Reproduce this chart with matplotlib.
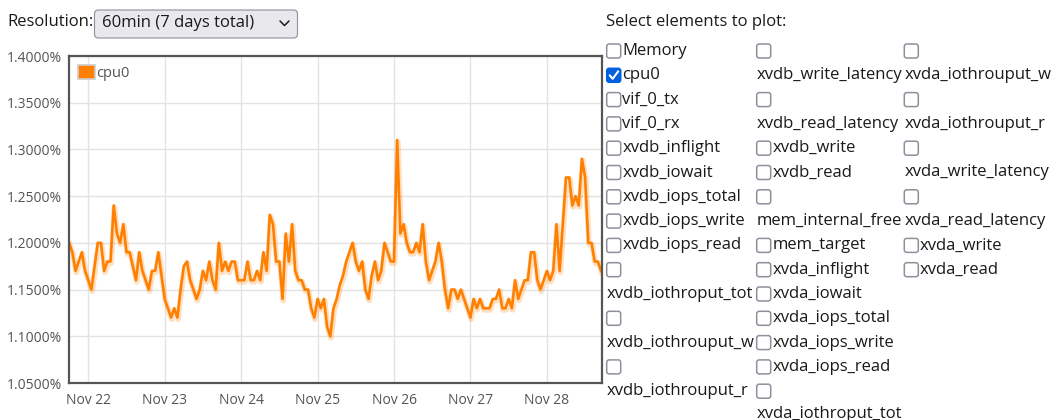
import matplotlib
matplotlib.use("Agg")
import matplotlib.pyplot as plt
import matplotlib.dates as mdates
import matplotlib.patheffects as pe
from matplotlib.patches import FancyBboxPatch, Patch
from matplotlib.lines import Line2D
from matplotlib.transforms import IdentityTransform
import pandas as pd

plt.rcParams["font.family"] = ["Open Sans", "DejaVu Sans"]

W, H = 1056, 420
ORANGE = "#ff8000"
TXT = "#1a1a1a"
TICK = "#545454"

# hourly cpu0 samples (percent), starting Nov 21 18:00
start = "2020-11-21 18:00"
cpu0 = [
    1.20, 1.19, 1.17, 1.18, 1.19, 1.17, 1.16, 1.15, 1.175, 1.20,
    1.20, 1.17, 1.18, 1.18, 1.24, 1.21, 1.20, 1.22, 1.19, 1.19,
    1.175, 1.16, 1.19, 1.17, 1.16, 1.15, 1.17, 1.17, 1.19, 1.165,
    1.14, 1.13, 1.12, 1.13, 1.12, 1.15, 1.175, 1.18, 1.16, 1.15,
    1.14, 1.15, 1.17, 1.16, 1.18, 1.16, 1.15, 1.20, 1.17, 1.18,
    1.17, 1.18, 1.18, 1.16, 1.16, 1.16, 1.18, 1.16, 1.16, 1.17,
    1.16, 1.19, 1.17, 1.23, 1.22, 1.18, 1.18, 1.14, 1.21, 1.18,
    1.22, 1.17, 1.16, 1.16, 1.15, 1.15, 1.13, 1.12, 1.14, 1.13,
    1.14, 1.11, 1.10, 1.13, 1.14, 1.155, 1.165, 1.18, 1.19, 1.20,
    1.18, 1.17, 1.18, 1.15, 1.14, 1.165, 1.18, 1.16, 1.17, 1.20,
    1.19, 1.18, 1.18, 1.31, 1.21, 1.22, 1.20, 1.19, 1.19, 1.20,
    1.19, 1.22, 1.18, 1.16, 1.17, 1.18, 1.20, 1.18, 1.15, 1.13,
    1.15, 1.15, 1.14, 1.15, 1.14, 1.13, 1.12, 1.14, 1.13, 1.14,
    1.13, 1.13, 1.13, 1.14, 1.14, 1.15, 1.13, 1.13, 1.14, 1.13,
    1.16, 1.14, 1.15, 1.16, 1.16, 1.19, 1.19, 1.16, 1.15, 1.16,
    1.17, 1.16, 1.17, 1.22, 1.17, 1.22, 1.27, 1.27, 1.24, 1.25,
    1.24, 1.29, 1.27, 1.20, 1.20, 1.18, 1.18, 1.17,
]
y_ticks = [1.05, 1.10, 1.15, 1.20, 1.25, 1.30, 1.35, 1.40]

resolution = "60min (7 days total)"
col1 = ["Memory", "cpu0", "vif_0_tx", "vif_0_rx", "xvdb_inflight", "xvdb_iowait",
        "xvdb_iops_total", "xvdb_iops_write", "xvdb_iops_read",
        "xvdb_iothroput_tot", "xvdb_iothrouput_w", "xvdb_iothrouput_r"]
col2 = ["xvdb_write_latency", "xvdb_read_latency", "xvdb_write", "xvdb_read",
        "mem_internal_free", "mem_target", "xvda_inflight", "xvda_iowait",
        "xvda_iops_total", "xvda_iops_write", "xvda_iops_read", "xvda_iothroput_tot"]
col3 = ["xvda_iothrouput_w", "xvda_iothrouput_r", "xvda_write_latency",
        "xvda_read_latency", "xvda_write", "xvda_read"]
checked = ["cpu0"]

times = pd.date_range(start, periods=len(cpu0), freq="h")

fig = plt.figure(figsize=(W / 100, H / 100), dpi=100)
px = IdentityTransform()


def text(x, y, s, **kw):
    # x, y in screen pixels from top-left
    fig.text(x, H - y, s, transform=px, va="center", fontsize=12, color=TXT, **kw)


def checkbox(x, y, on):
    box = FancyBboxPatch((x, H - y - 7), 14, 14,
                         boxstyle="round,pad=0,rounding_size=2.5", transform=px,
                         facecolor="#0060df" if on else "white",
                         edgecolor="#0060df" if on else "#8f8f9d", lw=1.1)
    fig.add_artist(box)
    if on:
        fig.add_artist(Line2D([x + 3, x + 6, x + 11.5], [H - y, H - y - 3.5, H - y + 4],
                              transform=px, color="white", lw=1.5,
                              solid_capstyle="round", solid_joinstyle="round"))


# top bar
text(7, 22, "Resolution:")
fig.add_artist(FancyBboxPatch((94.5, H - 38), 203, 28, boxstyle="round,pad=0,rounding_size=4",
                              transform=px, facecolor="#e9e9ed", edgecolor="#8f8f9d", lw=0.8))
text(102, 23, resolution)
fig.add_artist(Line2D([280, 284.5, 289], [H - 21, H - 25.5, H - 21], transform=px,
                      color=TXT, lw=1.1, solid_capstyle="round"))
text(606, 22, "Select elements to plot:")

# element selector columns
row_h = 24.3
for cx, names in [(606.7, col1), (756.7, col2), (904.3, col3)]:
    row = 0
    for name in names:
        y = 51 + row * row_h
        checkbox(cx, y, name in checked)
        if len(name) > 15:
            row += 1
            text(cx, 51 + row * row_h - (1.5 if row == 15 else 0), name)
        else:
            text(cx + 15.5, y, name)
        row += 1

# chart
ax = fig.add_axes([68.5 / W, 37 / H, 533.5 / W, 327 / H])
ax.plot(times, cpu0, color=ORANGE, lw=1.9, solid_joinstyle="round",
        path_effects=[pe.SimpleLineShadow(offset=(0.5, -1.2), shadow_color=ORANGE,
                                          alpha=0.25, linewidth=4), pe.Normal()])
ax.set_ylim(y_ticks[0], y_ticks[-1])
ax.set_yticks(y_ticks)
ax.yaxis.set_major_formatter(lambda v, _: f"{v:.4f}%")
ax.set_xlim(times[0] - pd.Timedelta(minutes=12), times[0] + pd.Timedelta(hours=167.3))
ax.xaxis.set_major_locator(mdates.DayLocator())
ax.xaxis.set_major_formatter(mdates.DateFormatter("%b %d"))
ax.grid(color="#e3e3e3", lw=1.0)
ax.set_axisbelow(True)
for sp in ax.spines.values():
    sp.set_color("#555555")
    sp.set_linewidth(1.6)
ax.tick_params(length=0, labelsize=10, labelcolor=TICK, pad=5)
ax.tick_params(axis="x", pad=7)
ax.legend(handles=[Patch(facecolor=ORANGE, edgecolor="#cccccc", lw=1.2)], labels=["cpu0"],
          loc="upper left", frameon=False, handlelength=1.15, handleheight=1.0,
          handletextpad=0.1, borderaxespad=0.25, fontsize=10.5, labelcolor=TICK)

fig.savefig("out.png", dpi=100)
